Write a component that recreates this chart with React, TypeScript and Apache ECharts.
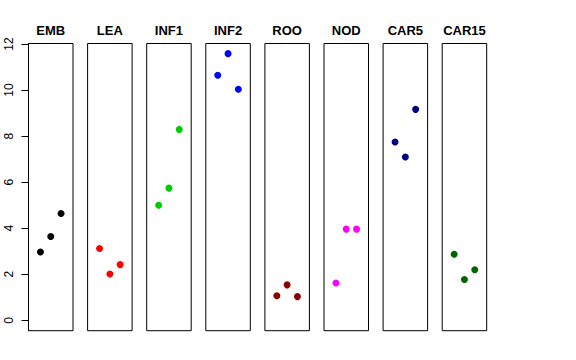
import React, { useEffect, useRef } from "react";
import * as echarts from "echarts";

const panels = ["EMB", "LEA", "INF1", "INF2", "ROO", "NOD", "CAR5", "CAR15"];
const colors = ["#000000", "#FF0000", "#00CD00", "#0000FF", "#8B0000", "#FF00FF", "#000080", "#006400"];
const xPositions = [1, 2, 3];
const values: number[][] = [
  [2.97, 3.64, 4.64],
  [3.12, 2.01, 2.42],
  [5.0, 5.74, 8.29],
  [10.64, 11.58, 10.03],
  [1.07, 1.54, 1.03],
  [1.62, 3.96, 3.96],
  [7.74, 7.09, 9.16],
  [2.87, 1.77, 2.2],
];
const yTicks = [0, 2, 4, 6, 8, 10, 12];

export default function App() {
  const ref = useRef<HTMLDivElement>(null);
  useEffect(() => {
    if (!ref.current) return;
    const chart = echarts.init(ref.current, null, { renderer: "svg" });
    const left0 = 28.5;
    const step = 59.1;
    const w = 44.5;
    const top = 43.5;
    const height = 287.2;
    const yMin = -0.45;
    const yMax = 12.02;
    const font = "'Liberation Sans', Arial, Helvetica, sans-serif";

    const grids = panels.map((_, i) => ({
      left: left0 + step * i,
      top,
      width: w,
      height,
      show: true,
      borderColor: "#000",
      borderWidth: 1,
      backgroundColor: "#fff",
    }));
    const xAxes = panels.map((_, i) => ({
      type: "value",
      gridIndex: i,
      min: -0.16,
      max: 4.16,
      show: false,
    }));
    const yAxes = panels.map((_, i) =>
      i === 0
        ? {
            type: "value",
            gridIndex: i,
            min: yMin,
            max: yMax,
            axisLine: { show: true, onZero: false, lineStyle: { color: "#000", width: 1 } },
            axisTick: {
              show: true,
              customValues: yTicks,
              length: 7,
              lineStyle: { color: "#000" },
            },
            axisLabel: {
              show: true,
              customValues: yTicks,
              rotate: 90,
              margin: 14,
              fontSize: 12,
              color: "#000",
              fontFamily: font,
            },
            splitLine: { show: false },
          }
        : {
            type: "value",
            gridIndex: i,
            min: yMin,
            max: yMax,
            show: false,
            splitLine: { show: false },
          }
    );
    const series = panels.map((_, i) => ({
      type: "scatter",
      xAxisIndex: i,
      yAxisIndex: i,
      symbol: "circle",
      symbolSize: 7,
      itemStyle: { color: colors[i], opacity: 1 },
      data: xPositions.map((x, k) => [x, values[i][k]]),
    }));
    const graphic = panels.map((name, i) => ({
      type: "text",
      x: left0 + step * i + w / 2,
      y: 30.5,
      style: {
        text: name,
        textAlign: "center",
        textVerticalAlign: "middle",
        font: `bold 13px ${font}`,
        fill: "#000",
      },
    }));

    chart.setOption({
      animation: false,
      backgroundColor: "#fff",
      grid: grids,
      xAxis: xAxes,
      yAxis: yAxes,
      series,
      graphic,
    } as any);
    return () => chart.dispose();
  }, []);
  return (
    <div
      ref={ref}
      style={{ position: "fixed", left: 0, top: 0, width: 576, height: 360 }}
    />
  );
}
